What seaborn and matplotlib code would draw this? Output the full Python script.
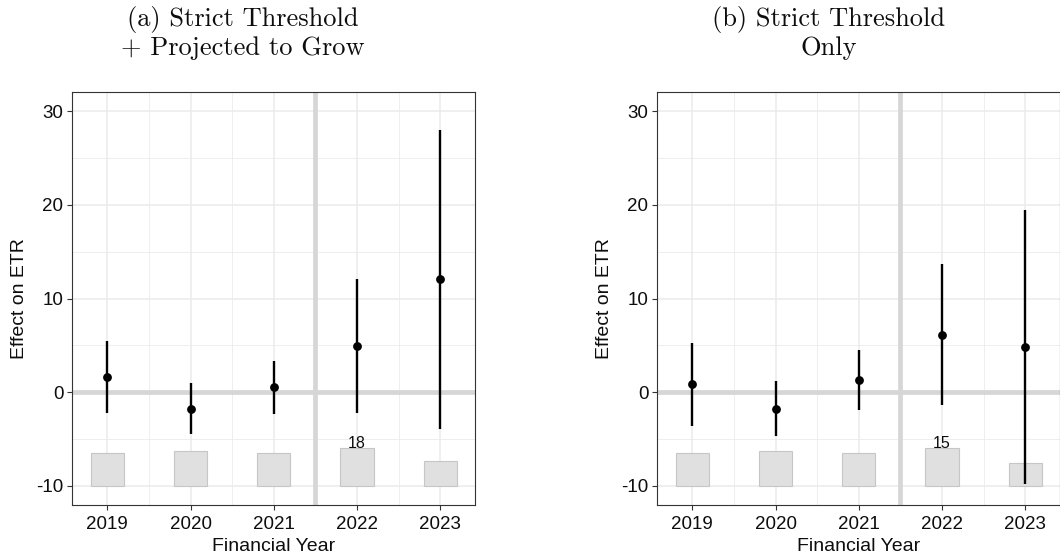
import matplotlib
matplotlib.use("Agg")
import matplotlib.pyplot as plt
import seaborn as sns
import pandas as pd
from matplotlib.ticker import MultipleLocator

# Event-study estimates of the effect on the effective tax rate (ETR)
years = [2019, 2020, 2021, 2022, 2023]

est_a = [1.60, -1.75, 0.53, 4.95, 12.07]
low_a = [-2.21, -4.49, -2.35, -2.21, -3.89]
high_a = [5.45, 0.96, 3.38, 12.10, 28.00]
count_a = [16, 17, 16, 18, 12]

est_b = [0.89, -1.78, 1.31, 6.14, 4.79]
low_b = [-3.57, -4.70, -1.86, -1.39, -9.84]
high_b = [5.30, 1.18, 4.49, 13.65, 19.45]
count_b = [13, 14, 13, 15, 9]

title_a = ["(a) Strict Threshold", "+ Projected to Grow"]
title_b = ["(b) Strict Threshold", "Only"]

x_label = "Financial Year"
y_label = "Effect on ETR"

sns.set_theme(style="white")
plt.rcParams["font.family"] = ["Liberation Sans", "DejaVu Sans"]
plt.rcParams["axes.unicode_minus"] = False

W, H = 1060, 556
fig = plt.figure(figsize=(W / 100, H / 100), dpi=100)

GRID = "#ebebeb"
FRAME = "#333333"
REF = "#d6d6d6"
INK = "#0d0d0d"

AX_W, AX_H, AX_BOTTOM = 403, 412.4, 504.7


def panel(left_px, est, low, high, counts, title, title_x):
    ax = fig.add_axes([left_px / W, 1 - AX_BOTTOM / H, AX_W / W, AX_H / H])
    df = pd.DataFrame({"year": years, "est": est, "low": low, "high": high,
                       "n": counts})
    top = max(counts)
    df["bar"] = df["n"] / top * 4.0

    ax.set_xlim(2018.58, 2023.42)
    ax.set_ylim(-12, 32)
    ax.xaxis.set_major_locator(MultipleLocator(1))
    ax.xaxis.set_minor_locator(MultipleLocator(0.5))
    ax.yaxis.set_major_locator(MultipleLocator(10))
    ax.yaxis.set_minor_locator(MultipleLocator(5))
    ax.set_axisbelow(True)
    ax.grid(which="major", color=GRID, lw=1.1, zorder=0)
    ax.grid(which="minor", color=GRID, lw=0.6, zorder=0)

    # reference lines: zero effect and treatment start
    ax.axhline(0, color=REF, lw=3.4, zorder=1)
    ax.axvline(2021.5, color=REF, lw=3.4, zorder=1)

    # sample-size bars along the bottom
    ax.bar(df["year"], df["bar"], bottom=-10, width=0.4,
           color="#e0e0e0", edgecolor="#c6c6c6", lw=0.8, zorder=2)
    imax = df["n"].idxmax()
    ax.text(df.loc[imax, "year"], -10 + df.loc[imax, "bar"] + 0.08,
            str(df.loc[imax, "n"]), ha="center", va="baseline",
            fontsize=11.5, color=INK, zorder=3)

    # confidence intervals and point estimates
    ax.vlines(df["year"], df["low"], df["high"], color="black", lw=1.7,
              zorder=4)
    sns.scatterplot(data=df, x="year", y="est", ax=ax, color="black",
                    s=40, edgecolor="black", linewidth=0, zorder=5,
                    legend=False)

    ax.set_xticks(years)
    ax.set_xticklabels([str(y) for y in years])
    ax.tick_params(axis="both", which="major", length=3.3, width=0.8,
                   color=FRAME, labelsize=13.5, labelcolor=INK,
                   direction="out", bottom=True, left=True)
    ax.tick_params(axis="x", pad=4.5)
    ax.tick_params(axis="y", pad=3.2)
    ax.tick_params(which="minor", length=0)
    for sp in ax.spines.values():
        sp.set_color(FRAME)
        sp.set_linewidth(0.8)

    ax.set_xlabel(x_label, fontsize=14, color=INK)
    ax.set_ylabel(y_label, fontsize=14, color=INK)
    ax.xaxis.set_label_coords(0.5, (AX_BOTTOM - 551.4) / AX_H)
    ax.xaxis.label.set_va("baseline")
    ax.yaxis.set_label_coords(-52.5 / AX_W, 0.5)
    ax.yaxis.label.set_va("center")

    for line, base in zip(title, (25.7, 55.0)):
        fig.text(title_x / W, 1 - base / H, line, ha="center",
                 va="baseline", fontsize=19, family="cmr10", color=INK)
    return ax


panel(72.3, est_a, low_a, high_a, count_a, title_a, 242.7)
panel(657.3, est_b, low_b, high_b, count_b, title_b, 829.0)

fig.savefig("out.png", dpi=100)
